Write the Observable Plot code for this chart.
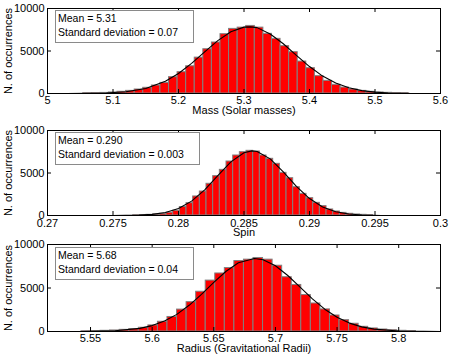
<!DOCTYPE html>
<html><head><meta charset="utf-8">
<script src="https://cdn.jsdelivr.net/npm/d3@7"></script>
<script src="https://cdn.jsdelivr.net/npm/@observablehq/plot@0.6"></script>
<style>
body{margin:0;background:#fff;font-family:"Liberation Sans",Arial,Helvetica,sans-serif;}
#wrap{position:relative;width:463px;height:359px;overflow:hidden;}
.panel{position:absolute;left:0;}
.box{position:absolute;border:1px solid #8a8a8a;background:#fff;font-size:10.5px;line-height:14px;padding:0 0 0 2px;box-sizing:border-box;color:#000;white-space:nowrap;}
</style></head><body><div id="wrap"></div>
<script>
// ---- shared ----
const yTicks = [0, 5000, 10000];
const yTitle = "N. of occurrences";

// ---- Panel 1: Mass ----
const massTicks = [5, 5.1, 5.2, 5.3, 5.4, 5.5, 5.6];
const massBinStart = 5.0545;
const massBinWidth = 0.0131;
const massCounts = [20, 40, 70, 120, 200, 310, 470, 670, 940, 1250, 1920, 2510, 3200, 4220, 5210, 6000, 6980, 7600, 7750, 7950, 7750, 7020, 6430, 5570, 4860, 3760, 2980, 2040, 1490, 1020, 700, 470, 310, 200, 120, 80, 40, 20];
const massCurveX = [5.03, 5.06, 5.09, 5.12, 5.15, 5.18, 5.20, 5.22, 5.24, 5.26, 5.28, 5.30, 5.31, 5.32, 5.34, 5.36, 5.38, 5.40, 5.42, 5.44, 5.46, 5.48, 5.50, 5.52, 5.55];
const massCurveY = [5, 20, 60, 200, 590, 1440, 2360, 3550, 4900, 6220, 7270, 7810, 7840, 7750, 7000, 5850, 4490, 3170, 2050, 1230, 670, 340, 160, 65, 15];
const massStats = ["Mean = 5.31", "Standard deviation = 0.07"];

// ---- Panel 2: Spin ----
const spinTicks = [0.27, 0.275, 0.28, 0.285, 0.29, 0.295, 0.3];
const spinBinStart = 0.276539;
const spinBinWidth = 0.000509;
const spinCounts = [20, 40, 80, 130, 200, 330, 560, 1000, 1450, 2240, 2820, 3730, 4630, 5370, 6350, 7060, 7450, 7610, 7530, 7060, 6670, 6080, 5020, 4390, 3330, 2550, 2040, 1490, 1100, 710, 470, 310, 200, 120, 80, 40];
const spinCurveX = [0.2750, 0.2770, 0.2780, 0.2790, 0.2800, 0.2810, 0.2820, 0.2830, 0.2840, 0.2850, 0.2856, 0.2860, 0.2870, 0.2880, 0.2890, 0.2900, 0.2910, 0.2920, 0.2930, 0.2940, 0.2955, 0.2975];
const spinCurveY = [3, 41, 128, 349, 823, 1690, 3017, 4680, 6310, 7390, 7600, 7530, 6660, 5130, 3430, 1990, 1006, 442, 169, 56, 8, 0];
const spinStats = ["Mean = 0.290", "Standard deviation = 0.003"];

// ---- Panel 3: Radius ----
const radTicks = [5.55, 5.6, 5.65, 5.7, 5.75, 5.8];
const radDomain = [5.5151, 5.8339];
const radBinStart = 5.54265;
const radBinWidth = 0.007753;
const radCounts = [20, 40, 80, 120, 190, 270, 430, 700, 1120, 1670, 2520, 3370, 4570, 5850, 6670, 7290, 8100, 8260, 8450, 8260, 7560, 6240, 5350, 4190, 3220, 2540, 1840, 1300, 890, 540, 350, 230, 150, 80, 40];
const radCurveX = [5.54, 5.55, 5.57, 5.59, 5.60, 5.61, 5.62, 5.63, 5.64, 5.65, 5.66, 5.67, 5.683, 5.69, 5.70, 5.71, 5.72, 5.73, 5.74, 5.75, 5.76, 5.77, 5.78, 5.80, 5.82, 5.834];
const radCurveY = [4, 13, 79, 357, 679, 1200, 1970, 3010, 4275, 5645, 6924, 7897, 8400, 8250, 7558, 6435, 5095, 3748, 2563, 1630, 963, 530, 271, 57, 9, 0];
const radStats = ["Mean = 5.68", "Standard deviation = 0.04"];

const W = 463, ML = 47, MR = 23;
const wrap = document.getElementById("wrap");

function panel(cfg) {
  const bars = cfg.counts.map((c, i) => ({
    x1: cfg.binStart + i * cfg.binWidth,
    x2: cfg.binStart + (i + 1) * cfg.binWidth,
    count: c
  }));
  const curve = cfg.curveX.map((x, i) => ({x, y: cfg.curveY[i]}));
  const ph = cfg.height - cfg.mt - cfg.mb;
  const pw = W - ML - MR;
  const fmt = d => String(d);
  const svg = Plot.plot({
    width: W, height: cfg.height,
    marginLeft: ML, marginRight: MR, marginTop: cfg.mt, marginBottom: cfg.mb,
    style: {fontFamily: '"Liberation Sans", Arial, Helvetica, sans-serif', fontSize: "11px", background: "transparent", color: "black", overflow: "visible"},
    x: {domain: cfg.domain, label: null},
    y: {domain: [0, 10000], label: null},
    marks: [
      Plot.rect(bars, {x1: "x1", x2: "x2", y1: 0, y2: "count", fill: "#ff0000", stroke: "#808080", strokeWidth: 1}),
      Plot.line(curve, {x: "x", y: "y", stroke: "black", strokeWidth: 1.1}),
      Plot.frame({stroke: "black"}),
      Plot.tickX(cfg.ticks, {x: d => d, insetTop: ph - 4, stroke: "black"}),
      Plot.tickX(cfg.ticks, {x: d => d, insetBottom: ph - 4, stroke: "black"}),
      Plot.tickY(yTicks, {y: d => d, insetRight: pw - 4, stroke: "black"}),
      Plot.tickY(yTicks, {y: d => d, insetLeft: pw - 4, stroke: "black"}),
      Plot.axisX(cfg.ticks, {tickSize: 0, tickPadding: cfg.tp, tickFormat: fmt, label: null, fontSize: 11}),
      Plot.axisY(yTicks, {tickSize: 0, tickPadding: 3, tickFormat: fmt, label: null, fontSize: 11}),
      Plot.text([cfg.title], {frameAnchor: "bottom", lineAnchor: "middle", textAnchor: "middle", dy: cfg.titleDy, fontSize: 11, fill: "black"}),
      Plot.text([yTitle], {frameAnchor: "left", lineAnchor: "middle", textAnchor: "middle", dx: -39, rotate: -90, fontSize: 11, fill: "black"})
    ]
  });
  svg.classList.add("panel");
  svg.style.top = cfg.top + "px";
  wrap.appendChild(svg);
  const box = document.createElement("div");
  box.className = "box";
  box.style.left = cfg.box[0] + "px";
  box.style.top = cfg.box[1] + "px";
  box.style.width = cfg.box[2] + "px";
  box.style.height = cfg.box[3] + "px";
  box.innerHTML = cfg.stats.map(s => "<div>" + s + "</div>").join("");
  wrap.appendChild(box);
}

panel({top: 0, height: 120, mt: 8, mb: 27, domain: [5, 5.6], ticks: massTicks, tp: 3,
  binStart: massBinStart, binWidth: massBinWidth, counts: massCounts,
  curveX: massCurveX, curveY: massCurveY, title: "Mass (Solar masses)", titleDy: 17,
  stats: massStats, box: [55, 10, 139, 33]});
panel({top: 120, height: 120, mt: 10, mb: 25, domain: [0.27, 0.3], ticks: spinTicks, tp: 4,
  binStart: spinBinStart, binWidth: spinBinWidth, counts: spinCounts,
  curveX: spinCurveX, curveY: spinCurveY, title: "Spin", titleDy: 17,
  stats: spinStats, box: [55, 132, 145, 33]});
panel({top: 240, height: 119, mt: 4, mb: 28, domain: radDomain, ticks: radTicks, tp: 3,
  binStart: radBinStart, binWidth: radBinWidth, counts: radCounts,
  curveX: radCurveX, curveY: radCurveY, title: "Radius (Gravitational Radii)", titleDy: 17,
  stats: radStats, box: [55, 247, 139, 33]});
</script></body></html>
